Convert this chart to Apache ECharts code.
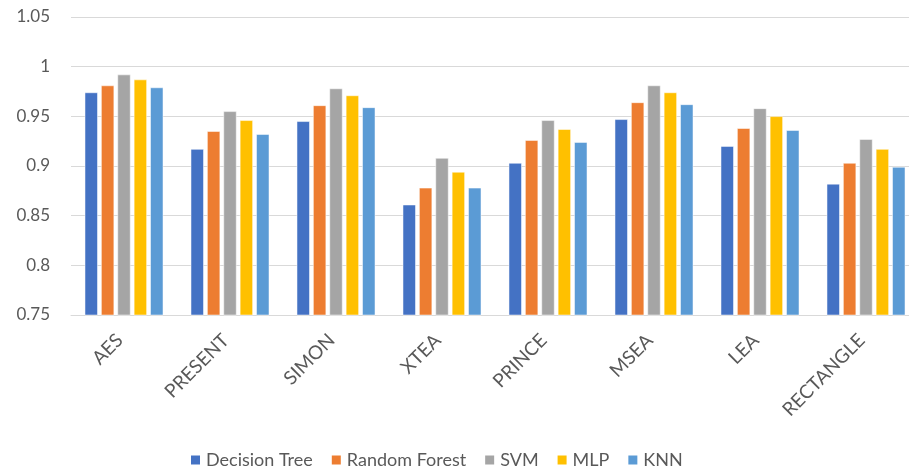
<!DOCTYPE html>
<html>
<head>
<meta charset="utf-8">
<script src="https://cdn.jsdelivr.net/npm/echarts@6/dist/echarts.min.js"></script>
<style>
  html, body { margin: 0; padding: 0; background: #fff; overflow: hidden; }
  /* the plot area runs slightly past the right edge of the window */
  #chart { width: 919px; height: 476px; }
</style>
</head>
<body>
<div id="chart"></div>
<script>
// Cipher algorithms on the x axis
const categories = ['AES', 'PRESENT', 'SIMON', 'XTEA', 'PRINCE', 'MSEA', 'LEA', 'RECTANGLE'];

// Accuracy per classifier
const decisionTree = [0.974, 0.917, 0.945, 0.861, 0.903, 0.947, 0.920, 0.882];
const randomForest = [0.981, 0.935, 0.961, 0.878, 0.926, 0.964, 0.938, 0.903];
const svm          = [0.992, 0.955, 0.978, 0.908, 0.946, 0.981, 0.958, 0.927];
const mlp          = [0.987, 0.946, 0.971, 0.894, 0.937, 0.974, 0.950, 0.917];
const knn          = [0.979, 0.932, 0.959, 0.878, 0.924, 0.962, 0.936, 0.899];

const seriesNames = ['Decision Tree', 'Random Forest', 'SVM', 'MLP', 'KNN'];
const seriesData = [decisionTree, randomForest, svm, mlp, knn];
const colors = ['#4472C4', '#ED7D31', '#A5A5A5', '#FFC000', '#5B9BD5'];

const fontFamily = 'Lato, "Open Sans", sans-serif';
const textColor = '#595959';

const chart = echarts.init(document.getElementById('chart'));
chart.setOption({
  animation: false,
  color: colors,
  textStyle: { fontFamily: fontFamily },
  grid: { left: 71, right: 0, top: 17, bottom: 161, containLabel: false },
  legend: {
    bottom: 2,
    left: 184,
    itemWidth: 11,
    itemHeight: 11,
    itemGap: 17,
    icon: 'rect',
    textStyle: { fontSize: 18, color: textColor, fontFamily: fontFamily },
    data: seriesNames
  },
  xAxis: {
    type: 'category',
    data: categories,
    axisLine: { lineStyle: { color: '#d9d9d9', width: 1 } },
    axisTick: { show: false },
    axisLabel: {
      rotate: 45,
      margin: 18,
      padding: [0, 6, 0, 0],
      fontSize: 19,
      color: textColor,
      fontFamily: fontFamily
    }
  },
  yAxis: {
    type: 'value',
    min: 0.75,
    max: 1.05,
    interval: 0.05,
    axisLine: { show: false },
    axisTick: { show: false },
    splitLine: { lineStyle: { color: '#d9d9d9', width: 1 } },
    axisLabel: {
      fontSize: 17,
      color: textColor,
      margin: 21,
      fontFamily: fontFamily,
      formatter: v => String(parseFloat(v.toFixed(2)))
    }
  },
  series: seriesNames.map((name, i) => ({
    name: name,
    type: 'bar',
    data: seriesData[i],
    barWidth: 13,
    barGap: '26%',
    itemStyle: { borderColor: '#fff', borderWidth: 0.5 }
  }))
});
</script>
</body>
</html>
